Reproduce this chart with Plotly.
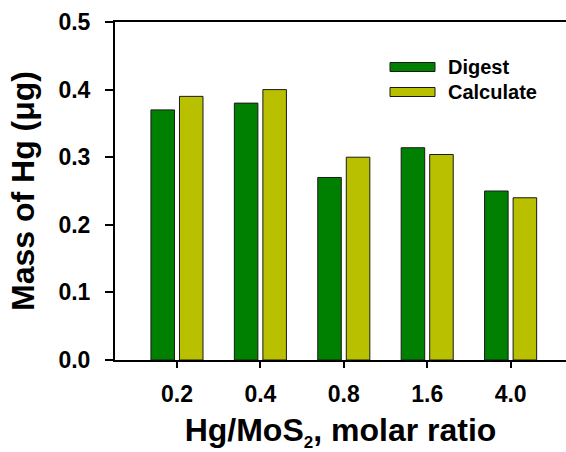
import plotly.graph_objects as go

# Hg/MoS2 molar ratios and measured / calculated Hg mass (µg)
ratios = ["0.2", "0.4", "0.8", "1.6", "4.0"]
digest = [0.370, 0.380, 0.270, 0.314, 0.250]
calculate = [0.390, 0.400, 0.300, 0.304, 0.240]

series_names = ["Digest", "Calculate"]
series_colors = ["#008000", "#b9c000"]

FONT = "Arial, Liberation Sans, Helvetica, sans-serif"

fig = go.Figure()
for name, vals, col in zip(series_names, [digest, calculate], series_colors):
    fig.add_trace(go.Bar(
        x=ratios, y=vals, name=name,
        marker=dict(color=col, line=dict(color="#1a1a1a", width=1)),
        showlegend=False,
    ))

# Hand-placed legend: wide flat swatches with bold labels
W, H = 566, 452
L, R, T, B = 115, 0, 22, 92
pw, ph = W - L - R, H - T - B

def px_x(p):
    return (p - L) / pw

def px_y(p):
    return (H - B - p) / ph

legend_rows = [67, 92]
for name, col, yc in zip(series_names, series_colors, legend_rows):
    fig.add_shape(type="rect", xref="paper", yref="paper",
                  x0=px_x(390), x1=px_x(435), y0=px_y(yc + 4.5), y1=px_y(yc - 4.5),
                  fillcolor=col, line=dict(color="#1a1a1a", width=1))
    fig.add_annotation(xref="paper", yref="paper", x=px_x(446), y=px_y(yc),
                       xanchor="left", yanchor="middle", showarrow=False,
                       text=f"<b>{name}</b>", font=dict(family=FONT, size=20, color="black"))

fig.update_layout(
    width=W, height=H,
    margin=dict(l=L, r=R, t=T, b=B, autoexpand=False),
    paper_bgcolor="white", plot_bgcolor="white",
    barmode="group", bargap=0.316, bargroupgap=0.175,
    font=dict(family=FONT, color="black"),
)

fig.update_xaxes(
    type="category", range=[-0.743, 4.664],
    showline=True, linecolor="black", linewidth=2, mirror=True,
    ticks="outside", ticklen=6, tickwidth=2, tickcolor="black",
    tickfont=dict(family=FONT, size=23, weight="bold"),
    ticklabelstandoff=6,
    showgrid=False, zeroline=False,
    title=dict(text="<b>Hg/MoS<sub><span style='font-size:17px'>2</span></sub>, molar ratio</b>",
               font=dict(family=FONT, size=32), standoff=14),
)
fig.update_yaxes(
    range=[0, 0.5], tickvals=[0, 0.1, 0.2, 0.3, 0.4, 0.5],
    ticktext=["0.0", "0.1", "0.2", "0.3", "0.4", "0.5"],
    showline=True, linecolor="black", linewidth=2,
    ticks="outside", ticklen=8, tickwidth=2, tickcolor="black",
    tickfont=dict(family=FONT, size=23, weight="bold"),
    ticklabelstandoff=10,
    showgrid=False, zeroline=False,
    title=dict(text="<b>Mass of Hg (μg)</b>",
               font=dict(family=FONT, size=32), standoff=14),
)

fig.write_html("out.html")
